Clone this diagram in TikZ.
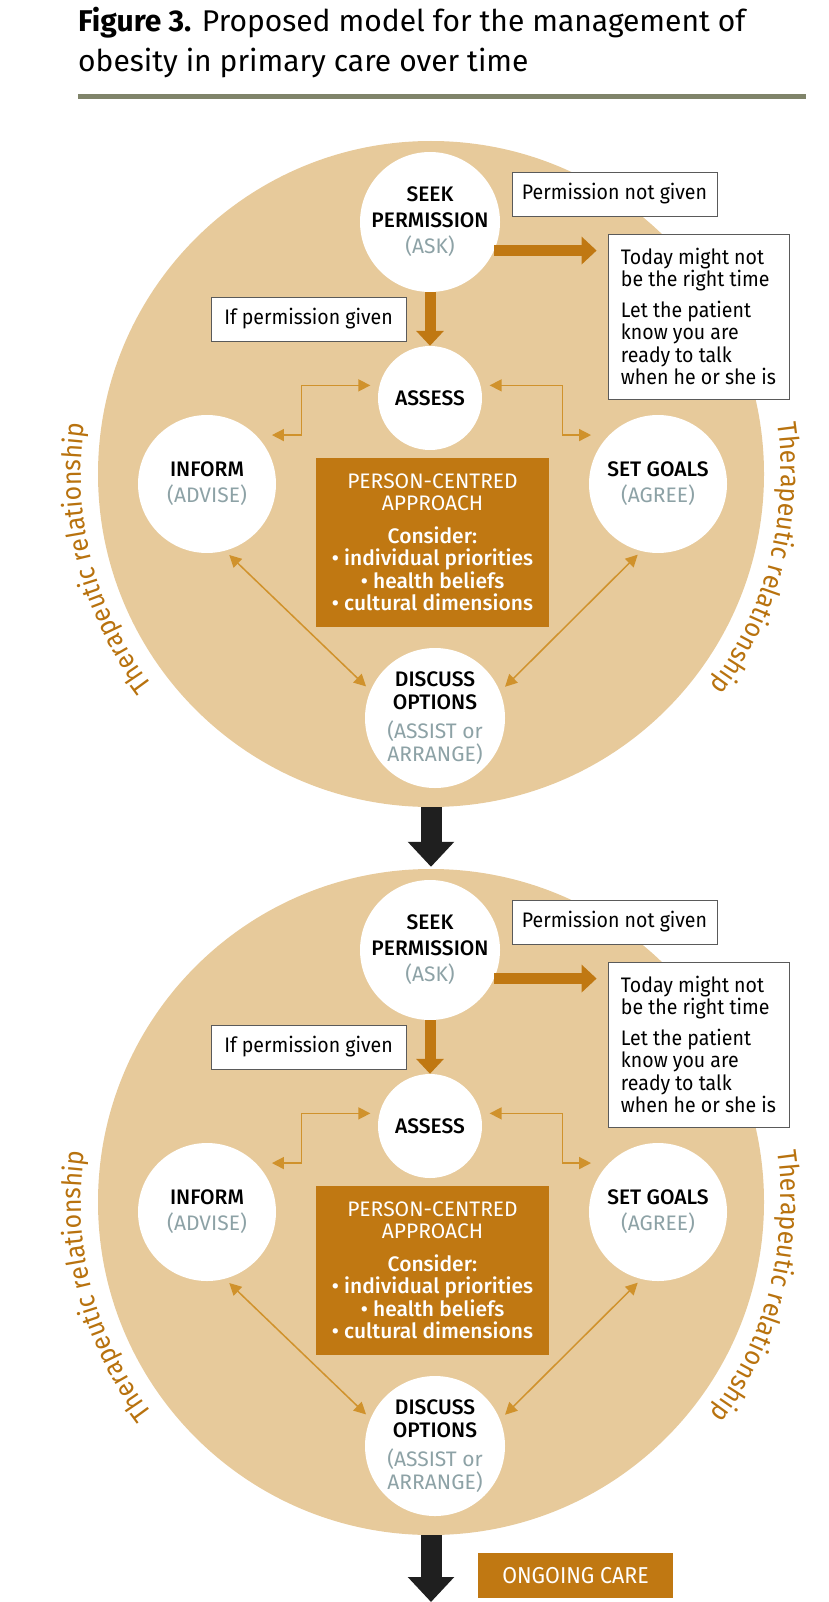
\documentclass[tikz,border=0pt]{standalone}
\usepackage{fontspec}
\setmainfont{Fira Sans}
\newfontfamily\headfont{Fira Sans}
\newfontfamily\labfont{Fira Sans Medium}
\newfontfamily\boxfont{Fira Sans}[FakeStretch=0.93]
\newfontfamily\askfont{Fira Sans}[Color=8DA2A6]
\newfontfamily\relfont{Fira Sans}[FakeStretch=0.92]
\usetikzlibrary{arrows.meta,decorations.text}
\definecolor{tan}{HTML}{E7CA9B}
\definecolor{rust}{HTML}{C07812}
\definecolor{linkcol}{HTML}{D0922C}
\definecolor{relcol}{HTML}{B8720E}
\definecolor{rulecol}{HTML}{80846A}
\definecolor{boxline}{HTML}{5A5A5A}

\begin{document}
\begin{tikzpicture}[x=1pt,y=1pt,
    ring/.style = {circle, fill=tan, minimum size=666pt, inner sep=0},
    stage/.style = {circle, fill=white, inner sep=0, align=center, font=\labfont\fontsize{21}{26}\selectfont},
    note/.style = {draw=boxline, line width=0.8pt, fill=white, inner sep=0, font=\boxfont\fontsize{21}{22.5}\selectfont},
    centre/.style = {fill=rust, text=white, inner sep=0, align=center},
    link/.style = {draw=linkcol, line width=1.5pt, {Triangle[length=12pt,width=12pt]}-{Triangle[length=12pt,width=12pt]}, shorten <=9pt},
    push/.style = {draw=rust, line width=11pt, -{Triangle[length=15pt,width=27pt]}},
    onward/.style = {draw=black!88, line width=21pt, -{Triangle[length=25pt,width=45pt]}},
    relation/.style = {decorate, decoration={text along path, text align=center,
        text={|\relfont\fontsize{27}{30}\selectfont\color{relcol}|Therapeutic relationship}}}]
    \useasboundingbox (0,0) rectangle (829,-1602);

    % title
    \node[anchor=base west, inner sep=0, font=\headfont\fontsize{30}{40}\selectfont] (title1) at (78,-32) {\textbf{Figure 3.} Proposed model for the management of};
    \node[anchor=base west, inner sep=0, font=\headfont\fontsize{30}{40}\selectfont] (title2) at (78,-72) {obesity in primary care over time};
    \draw[rulecol, line width=5pt] (78,-96.5) -- (806,-96.5);

    % first visit
    \node[ring] (ring1) at (431,-474) {};
    \path[relation] ([shift={(15.5:350)}]ring1.center) arc[start angle=15.5, end angle=-44.5, radius=350];
    \path[relation] ([shift={(224.5:350)}]ring1.center) arc[start angle=224.5, end angle=164.5, radius=350];
    \node[stage, minimum size=140pt] (seek1) at (430,-222) {SEEK\\PERMISSION\\{\askfont (ASK)}};
    \node[stage, minimum size=104pt] (assess1) at (430,-398) {ASSESS};
    \node[stage, minimum size=138pt] (inform1) at (207,-484) {INFORM\\{\askfont (ADVISE)}};
    \node[stage, minimum size=138pt] (goals1) at (658,-484) {SET GOALS\\{\askfont (AGREE)}};
    \node[stage, minimum size=140pt, font=\labfont\fontsize{21}{23}\selectfont] (discuss1) at (435,-718) {DISCUSS\\OPTIONS\\[6pt]{\askfont (ASSIST or}\\{\askfont ARRANGE)}};
    \node[centre, minimum width=233pt, minimum height=169pt, font=\headfont\fontsize{21}{22.5}\selectfont] (person1) at (432.5,-542.5)
        {PERSON-CENTRED\\APPROACH\\[10pt]{\labfont Consider:}\\{\labfont\textbullet{} individual priorities}\\{\labfont\textbullet{} health beliefs}\\{\labfont\textbullet{} cultural dimensions}};
    \node[note, minimum width=205pt, minimum height=44pt] (notgiven1) at (614.5,-194) {Permission not given};
    \node[note, minimum width=195pt, minimum height=44pt] (given1) at (308.5,-319) {If permission given};
    \node[note, minimum width=181pt, minimum height=165pt, align=left] (today1) at (698.5,-316.5)
        {Today might not\\be the right time\\[8pt]Let the patient\\know you are\\ready to talk\\when he or she is};
    \draw[push] (seek1) -- (assess1);
    \draw[push, shorten >=11pt] (seek1.-24) -- (seek1.-24 -| today1.west);
    \draw[link, shorten >=16pt] (assess1.166) -- ++(-78,0) |- (inform1.45);
    \draw[link, shorten >=18pt] (assess1.14) -- ++(82,0) |- (goals1.135);
    \draw[link, shorten <=6pt, shorten >=6pt] (inform1.-75) -- (discuss1.157);
    \draw[link, shorten <=5pt, shorten >=7pt] (goals1.-104) -- (discuss1.22);

    % second visit
    \node[ring] (ring2) at (431,-1202) {};
    \draw[onward, shorten >=2pt] (ring1) -- (ring2);
    \begin{scope}[yshift=-728pt]
    \path[relation] ([shift={(15.5:350)}]ring2.center) arc[start angle=15.5, end angle=-44.5, radius=350];
    \path[relation] ([shift={(224.5:350)}]ring2.center) arc[start angle=224.5, end angle=164.5, radius=350];
    \node[stage, minimum size=140pt] (seek2) at (430,-222) {SEEK\\PERMISSION\\{\askfont (ASK)}};
    \node[stage, minimum size=104pt] (assess2) at (430,-398) {ASSESS};
    \node[stage, minimum size=138pt] (inform2) at (207,-484) {INFORM\\{\askfont (ADVISE)}};
    \node[stage, minimum size=138pt] (goals2) at (658,-484) {SET GOALS\\{\askfont (AGREE)}};
    \node[stage, minimum size=140pt, font=\labfont\fontsize{21}{23}\selectfont] (discuss2) at (435,-718) {DISCUSS\\OPTIONS\\[6pt]{\askfont (ASSIST or}\\{\askfont ARRANGE)}};
    \node[centre, minimum width=233pt, minimum height=169pt, font=\headfont\fontsize{21}{22.5}\selectfont] (person2) at (432.5,-542.5)
        {PERSON-CENTRED\\APPROACH\\[10pt]{\labfont Consider:}\\{\labfont\textbullet{} individual priorities}\\{\labfont\textbullet{} health beliefs}\\{\labfont\textbullet{} cultural dimensions}};
    \node[note, minimum width=205pt, minimum height=44pt] (notgiven2) at (614.5,-194) {Permission not given};
    \node[note, minimum width=195pt, minimum height=44pt] (given2) at (308.5,-319) {If permission given};
    \node[note, minimum width=181pt, minimum height=165pt, align=left] (today2) at (698.5,-316.5)
        {Today might not\\be the right time\\[8pt]Let the patient\\know you are\\ready to talk\\when he or she is};
    \draw[push] (seek2) -- (assess2);
    \draw[push, shorten >=11pt] (seek2.-24) -- (seek2.-24 -| today2.west);
    \draw[link, shorten >=16pt] (assess2.166) -- ++(-78,0) |- (inform2.45);
    \draw[link, shorten >=18pt] (assess2.14) -- ++(82,0) |- (goals2.135);
    \draw[link, shorten <=6pt, shorten >=6pt] (inform2.-75) -- (discuss2.157);
    \draw[link, shorten <=5pt, shorten >=7pt] (goals2.-104) -- (discuss2.22);
    \end{scope}

    % after the second visit
    \coordinate (onwards) at (431,-1602);
    \draw[onward] (ring2) -- (onwards);
    \node[centre, minimum width=195pt, minimum height=45pt, font=\boxfont\fontsize{23}{23}\selectfont] (ongoing) at (575.5,-1575.5) {ONGOING CARE};
\end{tikzpicture}
\end{document}
